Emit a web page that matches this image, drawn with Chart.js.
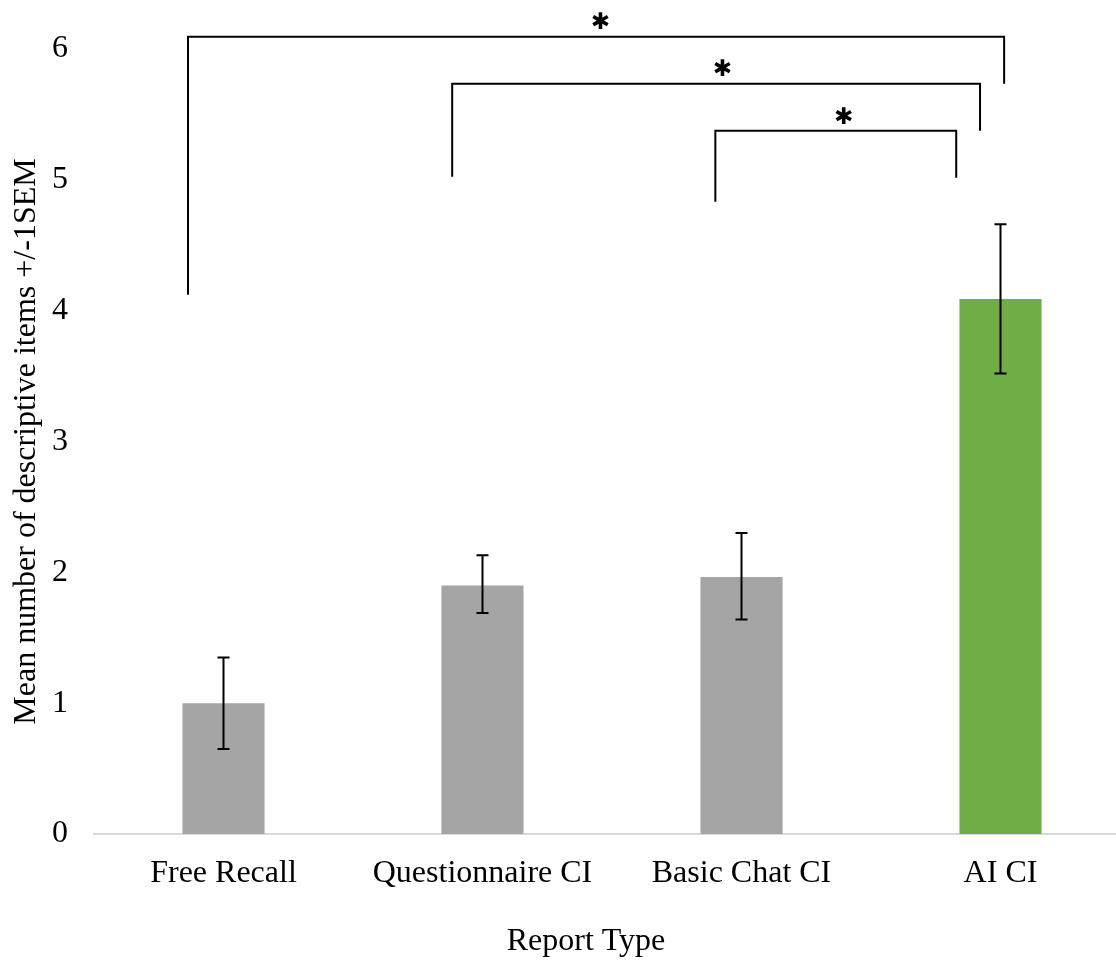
<!DOCTYPE html>
<html>
<head>
<meta charset="utf-8">
<script src="https://cdn.jsdelivr.net/npm/chart.js@4"></script>
<style>
  html, body { margin: 0; padding: 0; background: #fff; overflow: hidden; }
  #wrap { width: 1130px; height: 962px; }
</style>
</head>
<body>
<div id="wrap"><canvas id="chart"></canvas></div>
<script>
// data
const categories = ['Free Recall', 'Questionnaire CI', 'Basic Chat CI', 'AI CI'];
const means = [1.0, 1.90, 1.965, 4.09];
const errLow = [0.65, 1.69, 1.64, 3.52];
const errHigh = [1.35, 2.13, 2.30, 4.66];
const barColors = ['#a5a5a5', '#a5a5a5', '#a5a5a5', '#70ad47'];
const yTicks = [0, 1, 2, 3, 4, 5, 6];
const xTitle = 'Report Type';
const yTitle = 'Mean number of descriptive items +/-1SEM';

// significance brackets (category position, value levels)
const bracketLeftPos = [-0.137, 0.883, 1.899];
const bracketRightPos = [3.014, 2.921, 2.829];
const bracketTop = [6.093, 5.734, 5.375];
const bracketLeftEnd = [4.121, 5.023, 4.832];
const bracketRightEnd = [5.734, 5.375, 5.015];
const bracketStarPos = [1.455, 1.926, 2.394];
const bracketStarLevel = [6.22, 5.855, 5.495];

const serif = "'Liberation Serif', 'Times New Roman', serif";

const errorBars = {
    id: 'errorBars',
    afterDatasetsDraw(chart) {
        const ctx = chart.ctx;
        const x = chart.scales.x, y = chart.scales.y;
        ctx.save();
        ctx.strokeStyle = '#000';
        ctx.lineWidth = 2;
        categories.forEach((c, i) => {
            const px = x.getPixelForValue(i);
            const top = y.getPixelForValue(errHigh[i]);
            const bot = y.getPixelForValue(errLow[i]);
            ctx.beginPath();
            ctx.moveTo(px, top); ctx.lineTo(px, bot);
            ctx.moveTo(px - 6, top); ctx.lineTo(px + 6, top);
            ctx.moveTo(px - 6, bot); ctx.lineTo(px + 6, bot);
            ctx.stroke();
        });
        ctx.restore();
    }
};

const brackets = {
    id: 'brackets',
    afterDraw(chart) {
        const ctx = chart.ctx;
        const x = chart.scales.x, y = chart.scales.y;
        ctx.save();
        ctx.strokeStyle = '#000';
        ctx.lineWidth = 2;
        ctx.fillStyle = '#000';
        ctx.font = "23px 'DejaVu Sans', sans-serif";
        ctx.textAlign = 'center';
        ctx.textBaseline = 'alphabetic';
        bracketTop.forEach((t, i) => {
            const x1 = x.getPixelForValue(bracketLeftPos[i]);
            const x2 = x.getPixelForValue(bracketRightPos[i]);
            ctx.beginPath();
            ctx.moveTo(x1, y.getPixelForValue(bracketLeftEnd[i]));
            ctx.lineTo(x1, y.getPixelForValue(t));
            ctx.lineTo(x2, y.getPixelForValue(t));
            ctx.lineTo(x2, y.getPixelForValue(bracketRightEnd[i]));
            ctx.stroke();
            const m = ctx.measureText('✱');
            const cy = y.getPixelForValue(bracketStarLevel[i]);
            const off = (m.actualBoundingBoxAscent - m.actualBoundingBoxDescent) / 2;
            ctx.fillText('✱', x.getPixelForValue(bracketStarPos[i]), cy + off);
        });

        // x axis title, sits a little left of the axis centre in the original
        ctx.font = '32px ' + serif;
        ctx.textBaseline = 'middle';
        ctx.fillText(xTitle, 586, 942);
        ctx.restore();
    }
};

new Chart(document.getElementById('chart'), {
    type: 'bar',
    data: {
        labels: categories,
        datasets: [{
            data: means,
            backgroundColor: barColors,
            barPercentage: 0.317,
            categoryPercentage: 1.0
        }]
    },
    options: {
        responsive: true,
        maintainAspectRatio: false,
        animation: false,
        layout: { padding: { top: 49, right: 0, bottom: 0, left: 0 } },
        plugins: { legend: { display: false }, tooltip: { enabled: false } },
        scales: {
            x: {
                grid: { display: false, drawTicks: false },
                border: { display: true, color: '#d9d9d9', width: 2 },
                ticks: { color: '#000', font: { family: serif, size: 32 }, padding: 20, maxRotation: 0 },
                title: { display: false },
                afterFit: s => { s.height = 128; }
            },
            y: {
                min: 0, max: 6,
                afterBuildTicks: s => { s.ticks = yTicks.map(v => ({ value: v })); },
                grid: { display: false, drawTicks: false },
                border: { display: false },
                ticks: { color: '#000', font: { family: serif, size: 32 }, padding: 26 },
                title: { display: true, text: yTitle, color: '#000', font: { family: serif, size: 32 }, padding: { top: 7, bottom: 0 } },
                afterFit: s => { s.width = 94; }
            }
        }
    },
    plugins: [errorBars, brackets]
});
</script>
</body>
</html>
